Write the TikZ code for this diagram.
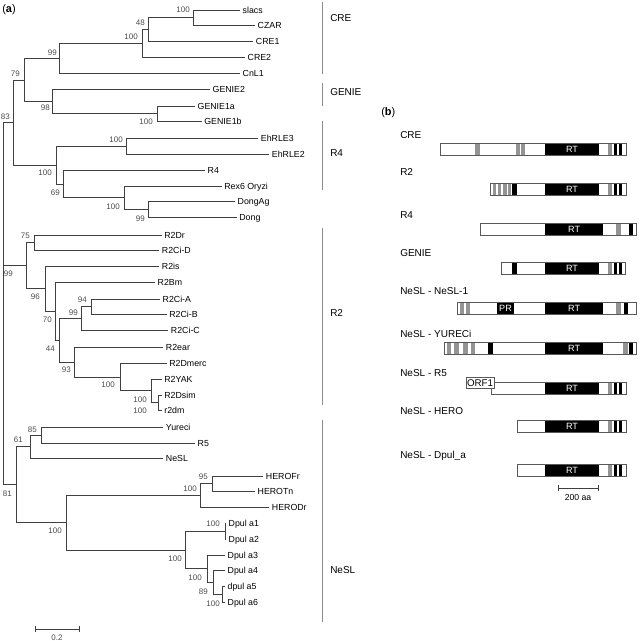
\documentclass[tikz,border=0pt]{standalone}
\usepackage{fontspec}
\setmainfont{Liberation Sans}
\newcommand\myboxfill[3]{\fill[white] (#1,#3) rectangle (#2,#3+12);}
\newcommand\myframe[3]{\draw[boxline] (#1,#3) rectangle (#2,#3+12);}
\newcommand\mygb[3]{\fill[black!42] (#1-0.6,#3) rectangle (#2+0.6,#3+12);}
\newcommand\mykb[3]{\fill[black] (#1-0.3,#3) rectangle (#2+0.3,#3+12);}
\newcommand\myrt[4]{\fill[black] (#1,#3) rectangle (#2,#3+12); \node[rtlab] (#4) at ({(#1+#2)/2},#3+6.2) {RT};}
\newcommand\myend[1]{\mygb{608.5}{611.5}{#1}\mykb{614.5}{617}{#1}\mykb{619}{621.5}{#1}}
\begin{document}
\begin{tikzpicture}[x=0.75pt,y=-0.75pt,
  br/.style={draw=black!75,line width=0.7pt},
  leaf/.style={anchor=west,inner xsep=1.8pt,inner ysep=0pt,font=\fontsize{6.6}{7}\selectfont,text height=4.7pt,text depth=0pt},
  bs/.style={anchor=east,inner sep=0pt,font=\fontsize{6}{7}\selectfont,text=black!70,text height=4.3pt,text depth=0pt},
  clade/.style={draw=black!45,line width=0.7pt},
  clab/.style={anchor=west,inner sep=0pt,font=\fontsize{7.5}{8}\selectfont,text height=5.4pt,text depth=0pt},
  boxline/.style={draw=black!65,line width=0.6pt},
  rtlab/.style={inner sep=0pt,text=white,font=\fontsize{6.8}{7}\selectfont,text height=4.9pt,text depth=0pt},
  panel/.style={anchor=west,inner sep=0pt,font=\fontsize{8.2}{9}\selectfont}]
\useasboundingbox (0,0) rectangle (642,641);

\node[panel] (pa) at (2,10) {(\textbf{a})};
\node[panel] (pb) at (381,113) {(\textbf{b})};

% internal nodes
\coordinate (root) at (3.3,300);
\coordinate (n83) at (13.3,122.6);
\coordinate (n79) at (24.3,80);
\coordinate (n99c) at (59.3,58.4);
\coordinate (nB) at (142.7,43.5);
\coordinate (n48) at (148.3,29.6);
\coordinate (nA) at (193.7,17.5);
\coordinate (nG98) at (52.3,101.6);
\coordinate (nG1) at (157.3,113.85);
\coordinate (nR4c) at (56.7,165.2);
\coordinate (nE) at (126.7,146.2);
\coordinate (n69) at (63.3,184.2);
\coordinate (nRex) at (124,197.75);
\coordinate (nDong) at (148.3,209.5);
\coordinate (n99r) at (26,265.6);
\coordinate (n75) at (34.3,242.5);
\coordinate (n96) at (45,288.6);
\coordinate (n70) at (55,311.3);
\coordinate (n44) at (59.3,340.25);
\coordinate (n99b) at (81.7,318.3);
\coordinate (n94) at (91.7,306.65);
\coordinate (n93) at (74,362.2);
\coordinate (nDm) at (120,377.1);
\coordinate (nYak) at (151.7,390.9);
\coordinate (nDs) at (158.3,402.5);
\coordinate (n81) at (16,484.8);
\coordinate (n61) at (30,446.8);
\coordinate (n85) at (41.7,435.3);
\coordinate (nN) at (66.7,522.85);
\coordinate (nH) at (200,495.6);
\coordinate (n95) at (212.7,483.85);
\coordinate (nDp) at (185,550.1);
\coordinate (nD12) at (225,531.3);
\coordinate (nD3) at (207.3,568.85);
\coordinate (n89) at (213.3,582.7);
\coordinate (nD56) at (222.7,594.7);

% leaves
\node[leaf] (slacs) at (240,10) {slacs};
\node[leaf] (CZAR) at (255,25) {CZAR};
\node[leaf] (CRE1) at (253.3,41.7) {CRE1};
\node[leaf] (CRE2) at (245,57.3) {CRE2};
\node[leaf] (CnL1) at (240,73.3) {CnL1};
\node[leaf] (GENIE2) at (210,89.3) {GENIE2};
\node[leaf] (GENIE1a) at (195,106) {GENIE1a};
\node[leaf] (GENIE1b) at (201.7,121.7) {GENIE1b};
\node[leaf] (EhRLE3) at (258.3,138.3) {EhRLE3};
\node[leaf] (EhRLE2) at (269.3,154) {EhRLE2};
\node[leaf] (R4) at (205,170.7) {R4};
\node[leaf] (Rex6) at (221.7,186) {Rex6 Oryzi};
\node[leaf] (DongAg) at (235,201.7) {DongAg};
\node[leaf] (Dong) at (236.7,217.3) {Dong};
\node[leaf] (R2Dr) at (161.7,235) {R2Dr};
\node[leaf] (R2CiD) at (159.3,250) {R2Ci-D};
\node[leaf] (R2is) at (159.3,266) {R2is};
\node[leaf] (R2Bm) at (155,282.3) {R2Bm};
\node[leaf] (R2CiA) at (160,299) {R2Ci-A};
\node[leaf] (R2CiB) at (166.7,314.3) {R2Ci-B};
\node[leaf] (R2CiC) at (168.3,330) {R2Ci-C};
\node[leaf] (R2ear) at (163.3,347.3) {R2ear};
\node[leaf] (R2Dmerc) at (166.7,363.3) {R2Dmerc};
\node[leaf] (R2YAK) at (161.7,379.3) {R2YAK};
\node[leaf] (R2Dsim) at (161.7,395) {R2Dsim};
\node[leaf] (r2dm) at (161.7,410) {r2dm};
\node[leaf] (Yureci) at (163.3,427.3) {Yureci};
\node[leaf] (R5) at (195,443.3) {R5};
\node[leaf] (NeSL) at (163.3,458.3) {NeSL};
\node[leaf] (HEROFr) at (263.3,476) {HEROFr};
\node[leaf] (HEROTn) at (255,491.7) {HEROTn};
\node[leaf] (HERODr) at (269.3,507.3) {HERODr};
\node[leaf] (Dpa1) at (226,523.3) {Dpul a1};
\node[leaf] (Dpa2) at (226,539.3) {Dpul a2};
\node[leaf] (Dpa3) at (225,555) {Dpul a3};
\node[leaf] (Dpa4) at (225,570.7) {Dpul a4};
\node[leaf] (Dpa5) at (225,586.7) {dpul a5};
\node[leaf] (Dpa6) at (225,602.7) {Dpul a6};

% branches
\draw[br] (root) |- (n83) (root) |- (n99r) (root) |- (n81);
\draw[br] (n83) |- (n79) (n83) |- (nR4c);
\draw[br] (n79) |- (n99c) (n79) |- (nG98);
\draw[br] (n99c) |- (nB) (n99c) |- (CnL1.west);
\draw[br] (nB) |- (n48) (nB) |- (CRE2.west);
\draw[br] (n48) |- (nA) (n48) |- (CRE1.west);
\draw[br] (nA) |- (slacs.west) (nA) |- (CZAR.west);
\draw[br] (nG98) |- (GENIE2.west) (nG98) |- (nG1);
\draw[br] (nG1) |- (GENIE1a.west) (nG1) |- (GENIE1b.west);
\draw[br] (nR4c) |- (nE) (nR4c) |- (n69);
\draw[br] (nE) |- (EhRLE3.west) (nE) |- (EhRLE2.west);
\draw[br] (n69) |- (R4.west) (n69) |- (nRex);
\draw[br] (nRex) |- (Rex6.west) (nRex) |- (nDong);
\draw[br] (nDong) |- (DongAg.west) (nDong) |- (Dong.west);
\draw[br] (n99r) |- (n75) (n99r) |- (n96);
\draw[br] (n75) |- (R2Dr.west) (n75) |- (R2CiD.west);
\draw[br] (n96) |- (R2is.west) (n96) |- (n70);
\draw[br] (n70) |- (R2Bm.west) (n70) |- (n44);
\draw[br] (n44) |- (n99b) (n44) |- (n93);
\draw[br] (n99b) |- (n94) (n99b) |- (R2CiC.west);
\draw[br] (n94) |- (R2CiA.west) (n94) |- (R2CiB.west);
\draw[br] (n93) |- (R2ear.west) (n93) |- (nDm);
\draw[br] (nDm) |- (R2Dmerc.west) (nDm) |- (nYak);
\draw[br] (nYak) |- (R2YAK.west) (nYak) |- (nDs);
\draw[br] (nDs) |- (R2Dsim.west) (nDs) |- (r2dm.west);
\draw[br] (n81) |- (n61) (n81) |- (nN);
\draw[br] (n61) |- (n85) (n61) |- (NeSL.west);
\draw[br] (n85) |- (Yureci.west) (n85) |- (R5.west);
\draw[br] (nN) |- (nH) (nN) |- (nDp);
\draw[br] (nH) |- (n95) (nH) |- (HERODr.west);
\draw[br] (n95) |- (HEROFr.west) (n95) |- (HEROTn.west);
\draw[br] (nDp) |- (nD12) (nDp) |- (nD3);
\draw[br] (nD12) |- (Dpa1.west) (nD12) |- (Dpa2.west);
\draw[br] (nD3) |- (Dpa3.west) (nD3) |- (n89);
\draw[br] (n89) |- (Dpa4.west) (n89) |- (nD56);
\draw[br] (nD56) |- (Dpa5.west) (nD56) |- (Dpa6.west);

% bootstrap values
\node[bs] (b1) at (190,10) {100};
\node[bs] (b2) at (145,22.7) {48};
\node[bs] (b3) at (138,36.7) {100};
\node[bs] (b4) at (57,53) {99};
\node[bs] (b5) at (20,74) {79};
\node[bs] (b6) at (50,108) {98};
\node[bs] (b7) at (153,121.7) {100};
\node[bs] (b8) at (10,116.7) {83};
\node[bs] (b9) at (123,139.3) {100};
\node[bs] (b10) at (52,172.7) {100};
\node[bs] (b11) at (60,192.7) {69};
\node[bs] (b12) at (120,206.7) {100};
\node[bs] (b13) at (145,218.3) {99};
\node[bs] (b14) at (30,236) {75};
\node[bs] (b15) at (13,273.3) {99};
\node[bs] (b16) at (40,296.7) {96};
\node[bs] (b17) at (87,300) {94};
\node[bs] (b18) at (78,312.7) {99};
\node[bs] (b19) at (52,320) {70};
\node[bs] (b20) at (55,348.3) {44};
\node[bs] (b21) at (71,370) {93};
\node[bs] (b22) at (115,385) {100};
\node[bs] (b23) at (147,399.3) {100};
\node[bs] (b24) at (147,411) {100};
\node[bs] (b25) at (37,429.3) {85};
\node[bs] (b26) at (23,440) {61};
\node[bs] (b27) at (208,476.7) {95};
\node[bs] (b28) at (197,488.3) {100};
\node[bs] (b29) at (12,494) {81};
\node[bs] (b30) at (220,524) {100};
\node[bs] (b31) at (62,530.7) {100};
\node[bs] (b32) at (182,559) {100};
\node[bs] (b33) at (202,577.3) {100};
\node[bs] (b34) at (208,591.7) {89};
\node[bs] (b35) at (220,603.3) {100};

% scale bar (a)
\coordinate (sa1) at (35,629);
\coordinate (sa2) at (79,629);
\draw[br,line width=0.6pt] (sa1) -- (sa2);
\draw[br,line width=0.6pt] ([yshift=2.5]sa1) -- ([yshift=-2.5]sa1);
\draw[br,line width=0.6pt] ([yshift=2.5]sa2) -- ([yshift=-2.5]sa2);
\node[bs,anchor=center] (sal) at (57,638) {0.2};

% clade bars
\draw[clade] (322,2) -- (322,74);
\draw[clade] (322,83) -- (322,106);
\draw[clade] (322,121) -- (322,190);
\draw[clade] (322,228) -- (322,405);
\draw[clade] (322,420) -- (322,622);
\node[clab] (cCRE) at (330,18) {CRE};
\node[clab] (cGEN) at (330,92) {GENIE};
\node[clab] (cR4) at (330,153) {R4};
\node[clab] (cR2) at (330,313) {R2};
\node[clab] (cNeSL) at (330,570) {NeSL};

% panel b labels
\node[clab] (lCRE) at (400,135) {CRE};
\node[clab] (lR2) at (400,172) {R2};
\node[clab] (lR4) at (400,215) {R4};
\node[clab] (lGEN) at (400,253) {GENIE};
\node[clab] (lN1) at (400,291) {NeSL - NeSL-1};
\node[clab] (lYU) at (400,334) {NeSL - YURECi};
\node[clab] (lR5) at (400,373) {NeSL - R5};
\node[clab] (lHE) at (400,411) {NeSL - HERO};
\node[clab] (lDp) at (400,455) {NeSL - Dpul\_a};

% CRE
\myboxfill{440}{626}{143.5}
\mygb{475.7}{479}{143.5}\mygb{516.7}{519.3}{143.5}\mygb{521.7}{524.3}{143.5}
\myrt{545}{599}{143.5}{rt1}
\myend{143.5}
\myframe{440}{626}{143.5}
% R2
\myboxfill{490}{626}{183}
\mygb{493.3}{495.3}{183}\mygb{498.3}{500.7}{183}\mygb{503.3}{505.9}{183}\mygb{508.3}{510.7}{183}
\mykb{512.7}{517}{183}
\myrt{545}{599}{183}{rt2}
\myend{183}
\myframe{490}{626}{183}
% R4
\myboxfill{480}{636}{223}
\myrt{545}{603.3}{223}{rt3}
\mygb{617}{620}{223}\mykb{629.5}{633}{223}
\myframe{480}{636}{223}
% GENIE
\myboxfill{501.7}{625.5}{262}
\mykb{512.7}{517}{262}
\myrt{545}{599}{262}{rt4}
\myend{262}
\myframe{501.7}{625.5}{262}
% NeSL-1
\myboxfill{457}{636}{302}
\mygb{461}{463.5}{302}\mygb{466.5}{469}{302}
\mykb{497}{514}{302}
\node[rtlab] (pr1) at (505.5,308.2) {PR};
\myrt{545}{603.3}{302}{rt5}
\mygb{617}{620}{302}\mykb{624.5}{628}{302}
\myframe{457}{636}{302}
% YURECi
\myboxfill{444}{636}{342}
\mygb{447.5}{450}{342}\mygb{455}{458.5}{342}\mygb{464}{467}{342}\mygb{471.5}{474.5}{342}
\mykb{488.5}{492.5}{342}
\myrt{545}{603.3}{342}{rt6}
\mygb{623.5}{627}{342}\mykb{629.5}{632.5}{342}
\myframe{444}{636}{342}
% R5
\myboxfill{491}{626}{382}
\myrt{545}{599}{382}{rt7}
\myend{382}
\myframe{491}{626}{382}
\draw[boxline,fill=white] (466,377) rectangle (494,388.5);
\node[inner sep=0pt,font=\fontsize{7.3}{8}\selectfont,text height=5.2pt,text depth=0pt] (orf1) at (480,382.9) {ORF1};
% HERO
\myboxfill{517}{626}{420}
\myrt{545}{599}{420}{rt8}
\myend{420}
\myframe{517}{626}{420}
% Dpul_a
\myboxfill{517}{626}{464}
\myrt{545}{599}{464}{rt9}
\myend{464}
\myframe{517}{626}{464}

% scale bar (b)
\coordinate (sb1) at (558,488);
\coordinate (sb2) at (598,488);
\draw[br,line width=0.6pt] (sb1) -- (sb2);
\draw[br,line width=0.6pt] ([yshift=2.5]sb1) -- ([yshift=-2.5]sb1);
\draw[br,line width=0.6pt] ([yshift=2.5]sb2) -- ([yshift=-2.5]sb2);
\node[inner sep=0pt,font=\fontsize{6.5}{7}\selectfont] (sbl) at (578,498) {200 aa};
\end{tikzpicture}
\end{document}
